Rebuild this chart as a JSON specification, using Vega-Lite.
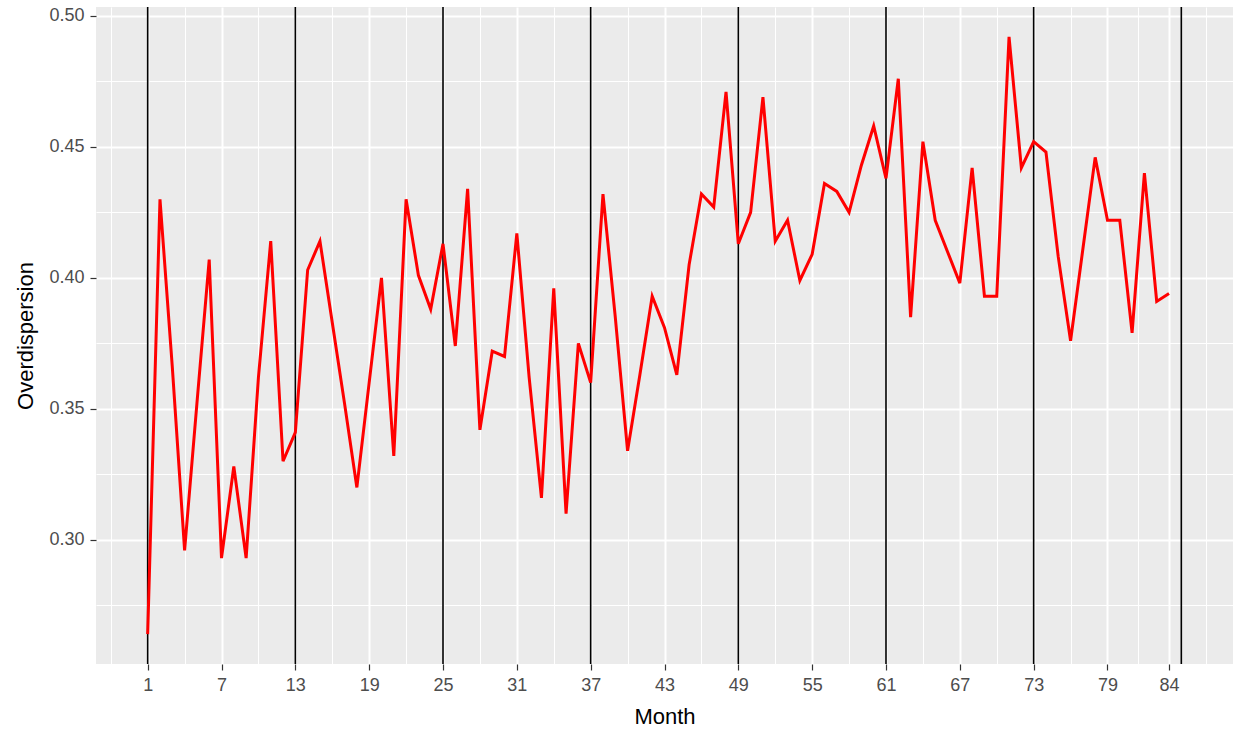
{
  "$schema": "https://vega.github.io/schema/vega-lite/v6.json",
  "width": 1137,
  "height": 657,
  "autosize": {"type": "none"},
  "padding": {"left": 96, "top": 7, "right": 2, "bottom": 66},
  "background": "white",
  "config": {
    "view": {"fill": "#EBEBEB", "stroke": null},
    "font": "Liberation Sans",
    "axis": {
      "domain": false,
      "gridColor": "white",
      "tickColor": "#333333",
      "tickWidth": 1.2,
      "labelColor": "#4D4D4D",
      "labelFont": "Liberation Sans",
      "labelFontSize": 18,
      "titleFont": "Liberation Sans",
      "titleFontSize": 22,
      "titleFontWeight": "normal",
      "titleColor": "black"
    }
  },
  "datasets": {
    "overdispersion": [
      {"month": 1, "overdispersion": 0.264},
      {"month": 2, "overdispersion": 0.430},
      {"month": 3, "overdispersion": 0.366},
      {"month": 4, "overdispersion": 0.296},
      {"month": 5, "overdispersion": 0.352},
      {"month": 6, "overdispersion": 0.407},
      {"month": 7, "overdispersion": 0.293},
      {"month": 8, "overdispersion": 0.328},
      {"month": 9, "overdispersion": 0.293},
      {"month": 10, "overdispersion": 0.362},
      {"month": 11, "overdispersion": 0.414},
      {"month": 12, "overdispersion": 0.330},
      {"month": 13, "overdispersion": 0.341},
      {"month": 14, "overdispersion": 0.403},
      {"month": 15, "overdispersion": 0.414},
      {"month": 16, "overdispersion": 0.383},
      {"month": 17, "overdispersion": 0.352},
      {"month": 18, "overdispersion": 0.320},
      {"month": 19, "overdispersion": 0.360},
      {"month": 20, "overdispersion": 0.400},
      {"month": 21, "overdispersion": 0.332},
      {"month": 22, "overdispersion": 0.430},
      {"month": 23, "overdispersion": 0.401},
      {"month": 24, "overdispersion": 0.388},
      {"month": 25, "overdispersion": 0.413},
      {"month": 26, "overdispersion": 0.374},
      {"month": 27, "overdispersion": 0.434},
      {"month": 28, "overdispersion": 0.342},
      {"month": 29, "overdispersion": 0.372},
      {"month": 30, "overdispersion": 0.370},
      {"month": 31, "overdispersion": 0.417},
      {"month": 32, "overdispersion": 0.362},
      {"month": 33, "overdispersion": 0.316},
      {"month": 34, "overdispersion": 0.396},
      {"month": 35, "overdispersion": 0.310},
      {"month": 36, "overdispersion": 0.375},
      {"month": 37, "overdispersion": 0.360},
      {"month": 38, "overdispersion": 0.432},
      {"month": 39, "overdispersion": 0.385},
      {"month": 40, "overdispersion": 0.334},
      {"month": 41, "overdispersion": 0.363},
      {"month": 42, "overdispersion": 0.393},
      {"month": 43, "overdispersion": 0.381},
      {"month": 44, "overdispersion": 0.363},
      {"month": 45, "overdispersion": 0.405},
      {"month": 46, "overdispersion": 0.432},
      {"month": 47, "overdispersion": 0.427},
      {"month": 48, "overdispersion": 0.471},
      {"month": 49, "overdispersion": 0.413},
      {"month": 50, "overdispersion": 0.425},
      {"month": 51, "overdispersion": 0.469},
      {"month": 52, "overdispersion": 0.414},
      {"month": 53, "overdispersion": 0.422},
      {"month": 54, "overdispersion": 0.399},
      {"month": 55, "overdispersion": 0.409},
      {"month": 56, "overdispersion": 0.436},
      {"month": 57, "overdispersion": 0.433},
      {"month": 58, "overdispersion": 0.425},
      {"month": 59, "overdispersion": 0.443},
      {"month": 60, "overdispersion": 0.458},
      {"month": 61, "overdispersion": 0.438},
      {"month": 62, "overdispersion": 0.476},
      {"month": 63, "overdispersion": 0.385},
      {"month": 64, "overdispersion": 0.452},
      {"month": 65, "overdispersion": 0.422},
      {"month": 66, "overdispersion": 0.410},
      {"month": 67, "overdispersion": 0.398},
      {"month": 68, "overdispersion": 0.442},
      {"month": 69, "overdispersion": 0.393},
      {"month": 70, "overdispersion": 0.393},
      {"month": 71, "overdispersion": 0.492},
      {"month": 72, "overdispersion": 0.442},
      {"month": 73, "overdispersion": 0.452},
      {"month": 74, "overdispersion": 0.448},
      {"month": 75, "overdispersion": 0.408},
      {"month": 76, "overdispersion": 0.376},
      {"month": 77, "overdispersion": 0.411},
      {"month": 78, "overdispersion": 0.446},
      {"month": 79, "overdispersion": 0.422},
      {"month": 80, "overdispersion": 0.422},
      {"month": 81, "overdispersion": 0.379},
      {"month": 82, "overdispersion": 0.440},
      {"month": 83, "overdispersion": 0.391},
      {"month": 84, "overdispersion": 0.394}
    ],
    "yearStarts": [
      {"month": 1}, {"month": 13}, {"month": 25}, {"month": 37},
      {"month": 49}, {"month": 61}, {"month": 73}, {"month": 85}
    ]
  },
  "encoding": {
    "x": {
      "field": "month",
      "type": "quantitative",
      "title": "Month",
      "scale": {"domain": [-3.2, 89.2], "nice": false, "zero": false},
      "axis": {
        "values": [-2, 1, 4, 7, 10, 13, 16, 19, 22, 25, 28, 31, 34, 37, 40, 43, 46, 49, 52, 55, 58, 61, 64, 67, 70, 73, 76, 79, 81.5, 84, 87],
        "labelExpr": "((datum.value - 1) % 6 === 0 || datum.value === 84) ? datum.label : ''",
        "labelFlush": false,
        "labelOverlap": false,
        "tickSize": 6,
        "labelPadding": 6,
        "titlePadding": 12,
        "tickOpacity": {"condition": {"test": "(datum.value - 1) % 6 === 0 || datum.value === 84", "value": 1}, "value": 0},
        "gridWidth": {"condition": {"test": "(datum.value - 1) % 6 === 0 || datum.value === 84", "value": 2}, "value": 1}
      }
    }
  },
  "layer": [
    {
      "data": {"name": "yearStarts"},
      "mark": {"type": "rule", "color": "black", "strokeWidth": 1.6}
    },
    {
      "data": {"name": "overdispersion"},
      "mark": {"type": "line", "color": "#FF0000", "strokeWidth": 3, "strokeJoin": "miter"},
      "encoding": {
        "y": {
          "field": "overdispersion",
          "type": "quantitative",
          "title": "Overdispersion",
          "scale": {"domain": [0.2526, 0.5034], "nice": false, "zero": false},
          "axis": {
            "values": [0.275, 0.3, 0.325, 0.35, 0.375, 0.4, 0.425, 0.45, 0.475, 0.5],
            "format": ".2f",
            "labelExpr": "abs(datum.value * 20 - round(datum.value * 20)) < 0.001 ? datum.label : ''",
            "labelOverlap": false,
            "labelFlush": false,
            "tickSize": 6,
            "labelPadding": 6,
            "titlePadding": 11,
            "tickOpacity": {"condition": {"test": "abs(datum.value * 20 - round(datum.value * 20)) < 0.001", "value": 1}, "value": 0},
            "gridWidth": {"condition": {"test": "abs(datum.value * 20 - round(datum.value * 20)) < 0.001", "value": 2}, "value": 1}
          }
        }
      }
    }
  ]
}
